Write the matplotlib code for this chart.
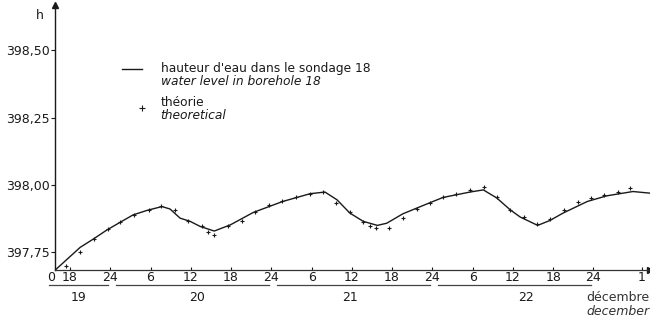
import matplotlib.pyplot as plt
import numpy as np

# water level in borehole 18 (hours counted from 19th 0h)
level_hours = [15.8, 19.5, 21.4, 23.5, 25.5, 27.4, 29.5, 30.6, 31.7, 32.9, 34.4,
               35.9, 37.4, 39.5, 41.9, 45.3, 49.7, 53.8, 56.0, 57.8, 59.7,
               61.7, 63.8, 65.2, 67.6, 71.7, 73.6, 77.6, 79.6, 81.6, 83.6,
               85.1, 87.7, 89.5, 91.5, 95.1, 98.0, 101.9, 104.4]
level_values = [397.683, 397.767, 397.797, 397.832, 397.861, 397.888, 397.905,
                397.912, 397.919, 397.910, 397.876, 397.864, 397.845, 397.828,
                397.851, 397.897, 397.938, 397.967, 397.973, 397.944, 397.895,
                397.864, 397.849, 397.857, 397.892, 397.934, 397.953, 397.973,
                397.981, 397.951, 397.907, 397.880, 397.849, 397.867, 397.895,
                397.938, 397.959, 397.975, 397.969]

# theoretical values
theo_hours = [17.4, 19.5, 21.5, 23.6, 25.5, 27.5, 29.7, 31.6, 33.6, 35.6, 37.6,
              38.5, 39.5, 41.6, 43.6, 45.6, 47.6, 49.6, 51.7, 53.7, 55.7,
              57.7, 59.7, 61.6, 62.7, 63.6, 65.6, 67.6, 69.7, 71.7, 73.6,
              75.6, 77.6, 79.7, 81.6, 83.6, 85.6, 87.6, 89.6, 91.6, 93.7,
              95.6, 97.6, 99.6, 101.5]
theo_values = [397.699, 397.751, 397.798, 397.835, 397.863, 397.887, 397.907,
               397.922, 397.906, 397.866, 397.848, 397.823, 397.813, 397.845,
               397.867, 397.899, 397.923, 397.939, 397.954, 397.967, 397.973,
               397.934, 397.899, 397.860, 397.848, 397.838, 397.839, 397.876,
               397.911, 397.934, 397.953, 397.967, 397.981, 397.991, 397.954,
               397.907, 397.880, 397.855, 397.873, 397.905, 397.936, 397.951,
               397.963, 397.973, 397.988]

hour_ticks = [18, 24, 30, 36, 42, 48, 54, 60, 66, 72, 78, 84, 90, 96]
hour_labels = ['18', '24', '6', '12', '18', '24', '6', '12', '18', '24', '6', '12', '18', '24']
y_ticks = [397.75, 398.00, 398.25, 398.50]
y_labels = ['397,75', '398,00', '398,25', '398,50']
days = ['19', '20', '21', '22']
day_centers = [19.2, 37.0, 59.7, 86.0]

ink = '#1a1a1a'
plt.rcParams['font.family'] = 'DejaVu Sans'

fig = plt.figure(figsize=(6.5, 3.23), dpi=100)
ax = fig.add_axes([55 / 650, 53 / 323, 595 / 650, 265 / 323])
ax.set_xlim(15.76, 104.44)
ax.set_ylim(397.683, 398.669)

ax.plot(level_hours, level_values, color=ink, lw=1.0)
ax.plot(theo_hours, theo_values, '+', color=ink, ms=3, mew=0.8)

for s in ['top', 'right']:
    ax.spines[s].set_visible(False)
ax.spines['left'].set_linewidth(1.0)
ax.spines['left'].set_color(ink)
ax.spines['bottom'].set_linestyle((0, (1, 1)))
ax.spines['bottom'].set_linewidth(0.9)
ax.spines['bottom'].set_color('#333333')

# axis arrows
ax.plot(0, 1, '^', color=ink, ms=4, transform=ax.transAxes, clip_on=False)
ax.plot(1, 0, '>', color=ink, ms=4, transform=ax.transAxes, clip_on=False)

ax.set_yticks(y_ticks)
ax.set_yticklabels(y_labels)
ax.tick_params(axis='y', direction='out', length=3, width=0.8, pad=1,
               labelsize=9, colors=ink)
ax.set_xticks([15.76] + hour_ticks + [103.2])
ax.set_xticklabels(['0'] + hour_labels + ['1'])
ax.tick_params(axis='x', direction='in', length=2, width=0.8, pad=1,
               labelsize=9, colors=ink)
ax.get_xticklabels()[0].set_horizontalalignment('right')

ax.text(-0.025, 0.962, 'h', transform=ax.transAxes, fontsize=9, color=ink,
        ha='center', va='center')

# day underlines and labels
xt = ax.get_xaxis_transform()
for i, d in enumerate(days):
    start = max(i * 24, 14.8) + (0.8 if i > 0 else 0)
    end = (i + 1) * 24 - 0.3
    ax.plot([start, end], [-0.057, -0.057], color='#444444', lw=0.9,
            transform=xt, clip_on=False)
    ax.text(day_centers[i], -0.102, d, transform=xt, fontsize=9, color=ink,
            ha='center', va='center')
ax.text(104.4, -0.102, 'décembre', transform=xt, fontsize=9, color='#333333',
        ha='right', va='center')
ax.text(104.4, -0.155, 'december', transform=xt, fontsize=9, color='#333333',
        ha='right', va='center', style='italic')

# legend
ax.plot([25.7, 28.8], [398.431, 398.431], color=ink, lw=1.0)
ax.text(31.5, 398.433, "hauteur d'eau dans le sondage 18", fontsize=8.8,
        color=ink, va='center')
ax.text(31.5, 398.385, 'water level in borehole 18', fontsize=8.8,
        color=ink, va='center', style='italic')
ax.plot([28.8], [398.286], '+', color=ink, ms=4, mew=0.8)
ax.text(31.5, 398.307, 'théorie', fontsize=8.8, color=ink, va='center')
ax.text(31.5, 398.258, 'theoretical', fontsize=8.8, color=ink, va='center',
        style='italic')

fig.savefig('out.png', dpi=100)
